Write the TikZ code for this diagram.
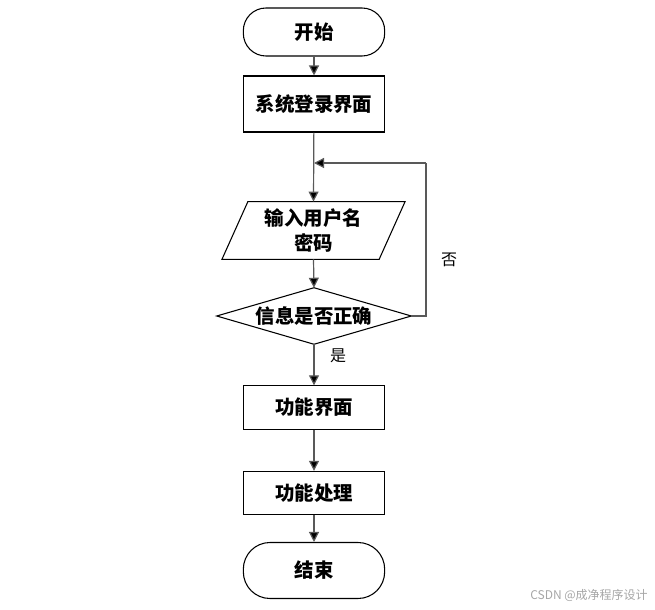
\documentclass[tikz,border=0pt]{standalone}
\usepackage{fontspec}
\newfontfamily\cjk{Noto Sans CJK SC}
\usetikzlibrary{arrows.meta,calc}
\tikzset{
  base/.style={inner sep=0pt, font=\cjk\bfseries\fontsize{14.6pt}{19pt}\selectfont, align=center},
  term/.style={base, draw, line width=0.8pt, rounded corners=17pt, minimum width=106pt, minimum height=36pt},
  proc/.style={base, draw, line width=0.8pt, minimum width=106pt},
  iobox/.style={base, minimum width=137pt, minimum height=43pt},
  decbox/.style={base, minimum width=145.5pt, minimum height=42pt},
  conn/.style={draw=black!65, line width=0.9pt, -{Triangle[width=7.5pt,length=7.5pt,fill=black]}},
  plainline/.style={draw=black!65, line width=0.9pt},
  lbl/.style={font=\cjk\fontsize{12pt}{14pt}\selectfont, inner sep=0pt}
}
\begin{document}
\begin{tikzpicture}[x=0.75pt,y=-0.75pt]
\useasboundingbox (0,0) rectangle (655,609);
\node[term] (start) at (314,32) {开始};
\node[proc, minimum height=42pt] (login) at (314,104) {系统登录界面};
\node[iobox] (in) at (313.5,230.5) {输入用户名\\密码};
\draw[line width=0.8pt] ($(in.north west)+(26,0)$) -- (in.north east) -- ($(in.south east)+(-26,0)$) -- (in.south west) -- cycle;
\node[decbox] (dec) at (314,316) {信息是否正确};
\draw[line width=0.8pt] (dec.north) -- (dec.east) -- (dec.south) -- (dec.west) -- cycle;
\node[proc, minimum height=32.5pt] (func) at (314,407.5) {功能界面};
\node[proc, minimum height=32.5pt] (work) at (314,493) {功能处理};
\node[term, minimum height=42pt, rounded corners=20pt] (stop) at (314,570.5) {结束};
\coordinate (join) at (314,163);
\coordinate (rc) at (426,316);
\coordinate (ru) at (426,163);
\path[conn] (start) -- (login);
\path[conn] (login) -- (in.north);
\path[conn] (in.south) -- (dec.north);
\path[plainline] (dec.east) -- (rc) -- (ru);
\path[conn] (ru) -- (join);
\path[conn] (dec.south) -- (func);
\path[conn] (func) -- (work);
\path[conn] (work) -- (stop);
\node[lbl] (no) at (449,260) {否};
\node[lbl] (yes) at (338,356) {是};
\node[font=\cjk\fontsize{9pt}{10pt}\selectfont, text=black!35, inner sep=0pt, anchor=east] (wm) at (648,595) {CSDN @成净程序设计};
\end{tikzpicture}
\end{document}
